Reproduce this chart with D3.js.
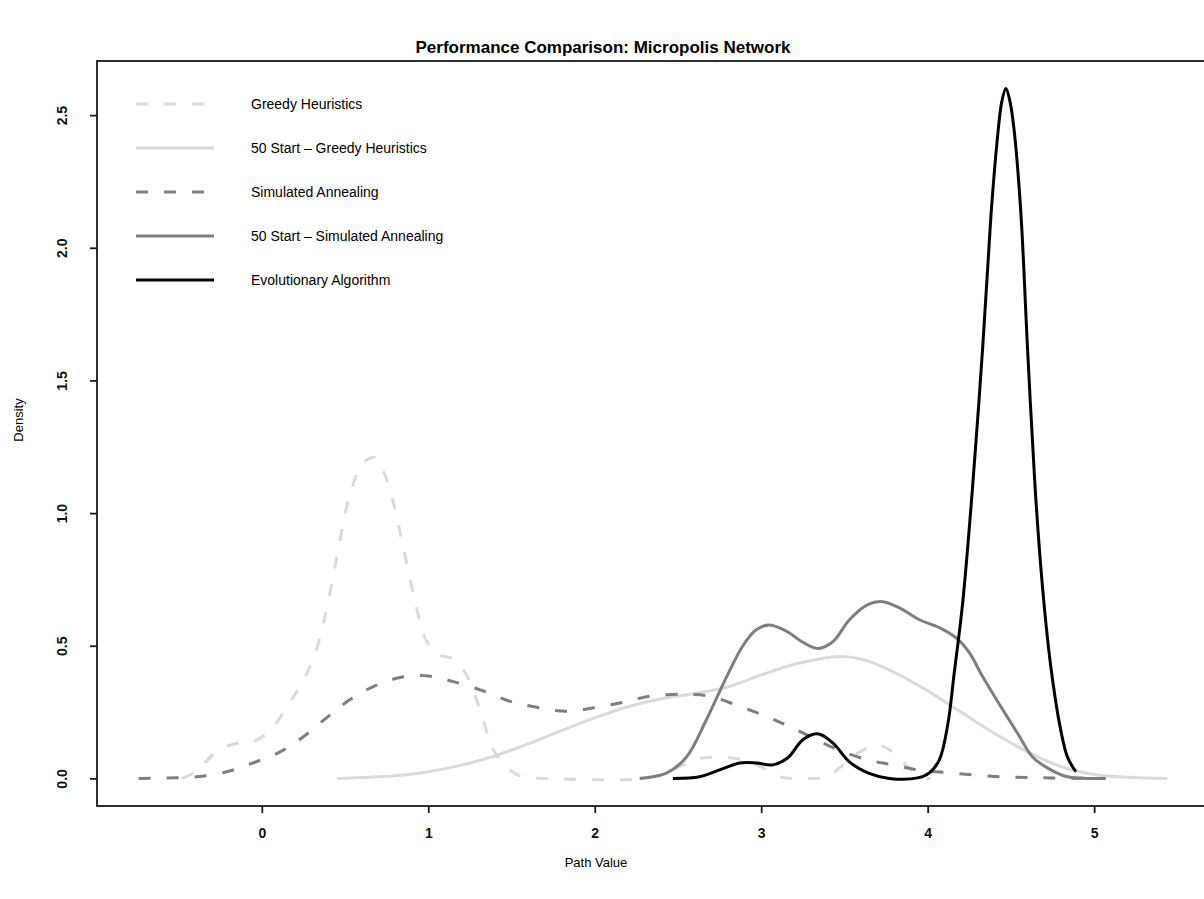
<!DOCTYPE html>
<html>
<head>
<meta charset="utf-8">
<script src="https://cdn.jsdelivr.net/npm/d3@7"></script>
<style>
  html, body { margin: 0; padding: 0; background: #fff; }
  svg { display: block; font-family: "Liberation Sans", Arial, Helvetica, sans-serif; }
</style>
</head>
<body>
<svg id="chart" width="1204" height="899"></svg>
<script>
// Kernel density estimates of path values, one array of [value, density] per method
const greedy = [
  [-0.48, 0], [-0.41, 0.02], [-0.25, 0.11], [-0.12, 0.136], [-0.05, 0.14], [0.05, 0.18],
  [0.15, 0.27], [0.25, 0.37], [0.33, 0.49], [0.40, 0.67], [0.47, 0.90], [0.53, 1.07],
  [0.61, 1.19], [0.68, 1.21], [0.73, 1.16], [0.79, 1.04], [0.85, 0.87], [0.92, 0.67],
  [0.98, 0.53], [1.05, 0.47], [1.15, 0.45], [1.23, 0.39], [1.31, 0.26], [1.39, 0.11],
  [1.46, 0.05], [1.55, 0.01], [1.71, 0], [2.30, 0], [2.42, 0.02], [2.53, 0.051],
  [2.63, 0.075], [2.75, 0.08], [2.89, 0.07], [3.01, 0.04], [3.11, 0.006], [3.28, 0],
  [3.40, 0.006], [3.47, 0.04], [3.58, 0.096], [3.70, 0.126], [3.77, 0.108], [3.88, 0.044],
  [3.96, 0.005], [4.02, 0]
];
const greedy50 = [
  [0.45, 0], [0.60, 0.003], [0.80, 0.01], [1.00, 0.025], [1.20, 0.05], [1.40, 0.085],
  [1.60, 0.13], [1.80, 0.18], [2.00, 0.228], [2.20, 0.27], [2.40, 0.30], [2.60, 0.32],
  [2.80, 0.345], [3.00, 0.39], [3.20, 0.43], [3.45, 0.459], [3.60, 0.45], [3.80, 0.40],
  [4.00, 0.33], [4.20, 0.25], [4.40, 0.17], [4.60, 0.10], [4.80, 0.045], [5.00, 0.015],
  [5.20, 0.004], [5.44, 0]
];
const annealing = [
  [-0.74, 0], [-0.57, 0.002], [-0.39, 0.006], [-0.21, 0.025], [-0.05, 0.059], [0.11, 0.10],
  [0.25, 0.157], [0.39, 0.229], [0.53, 0.297], [0.67, 0.346], [0.83, 0.38], [0.98, 0.387],
  [1.13, 0.368], [1.33, 0.33], [1.49, 0.291], [1.65, 0.268], [1.83, 0.253], [2.01, 0.268],
  [2.17, 0.287], [2.33, 0.31], [2.53, 0.317], [2.69, 0.31], [2.87, 0.272], [3.03, 0.234],
  [3.17, 0.195], [3.31, 0.153], [3.46, 0.108], [3.64, 0.07], [3.79, 0.051], [3.94, 0.032],
  [4.13, 0.021], [4.44, 0.006], [4.74, 0.002], [5.04, 0]
];
const annealing50 = [
  [2.27, 0], [2.43, 0.02], [2.55, 0.08], [2.67, 0.22], [2.79, 0.38], [2.89, 0.50],
  [2.97, 0.56], [3.05, 0.578], [3.16, 0.552], [3.25, 0.513], [3.34, 0.49], [3.43, 0.515],
  [3.53, 0.598], [3.64, 0.655], [3.73, 0.666], [3.83, 0.643], [3.95, 0.598], [4.07, 0.568],
  [4.18, 0.525], [4.25, 0.474], [4.33, 0.384], [4.44, 0.27], [4.54, 0.17], [4.63, 0.081],
  [4.74, 0.032], [4.84, 0.006], [4.96, 0], [5.07, 0]
];
const evolutionary = [
  [2.47, 0], [2.63, 0.006], [2.75, 0.032], [2.87, 0.058], [2.97, 0.058], [3.07, 0.051],
  [3.16, 0.078], [3.25, 0.146], [3.34, 0.168], [3.43, 0.134], [3.53, 0.062], [3.64, 0.021],
  [3.77, 0], [3.94, 0.002], [4.01, 0.021], [4.07, 0.07], [4.12, 0.20], [4.16, 0.40],
  [4.21, 0.66], [4.27, 1.10], [4.33, 1.62], [4.38, 2.12], [4.42, 2.42], [4.445, 2.55],
  [4.47, 2.60], [4.495, 2.55], [4.52, 2.44], [4.56, 2.13], [4.60, 1.62], [4.645, 1.10],
  [4.69, 0.72], [4.74, 0.42], [4.80, 0.18], [4.84, 0.08], [4.89, 0.025]
];

const seriesNames = [
  "Greedy Heuristics",
  "50 Start \u2013 Greedy Heuristics",
  "Simulated Annealing",
  "50 Start \u2013 Simulated Annealing",
  "Evolutionary Algorithm"
];
const seriesData = [greedy, greedy50, annealing, annealing50, evolutionary];
const seriesColors = ["#dadada", "#dadada", "#7f7f7f", "#7f7f7f", "#000000"];
const seriesDash = ["12,16", null, "12,16", null, null];

const xTicks = [0, 1, 2, 3, 4, 5];
const yTicks = [0, 0.5, 1, 1.5, 2, 2.5];

const svg = d3.select("#chart");
const plot = { left: 97, top: 61, right: 1209, bottom: 806 };

const x = d3.scaleLinear().domain([-0.99, 5.69]).range([plot.left, plot.right]);
const y = d3.scaleLinear().domain([-0.104, 2.704]).range([plot.bottom, plot.top]);

svg.append("rect").attr("width", 1204).attr("height", 899).attr("fill", "#fff");

svg.append("defs").append("clipPath").attr("id", "plot-clip")
  .append("rect")
  .attr("x", plot.left).attr("y", plot.top)
  .attr("width", plot.right - plot.left).attr("height", plot.bottom - plot.top);

// density curves, smoothed through the sampled points
const line = d3.line()
  .x(d => x(d[0]))
  .y(d => y(d[1]))
  .curve(d3.curveCatmullRom.alpha(0.5));

const curves = svg.append("g").attr("clip-path", "url(#plot-clip)");
seriesData.forEach((data, i) => {
  curves.append("path")
    .datum(data)
    .attr("d", line)
    .attr("fill", "none")
    .attr("stroke", seriesColors[i])
    .attr("stroke-width", 3)
    .attr("stroke-dasharray", seriesDash[i])
    .attr("stroke-linejoin", "round");
});

// plot frame
svg.append("rect")
  .attr("x", plot.left).attr("y", plot.top)
  .attr("width", plot.right - plot.left).attr("height", plot.bottom - plot.top)
  .attr("fill", "none").attr("stroke", "#1a1a1a").attr("stroke-width", 1.8);

// axes
const xAxis = svg.append("g")
  .attr("transform", `translate(0,${plot.bottom})`)
  .call(d3.axisBottom(x).tickValues(xTicks).tickSize(7).tickPadding(15).tickFormat(d3.format("d")));
const yAxis = svg.append("g")
  .attr("transform", `translate(${plot.left},0)`)
  .call(d3.axisLeft(y).tickValues(yTicks).tickSize(7).tickFormat(d3.format(".1f")));

[xAxis, yAxis].forEach(g => {
  g.select(".domain").remove();
  g.selectAll(".tick line").attr("stroke", "#1a1a1a").attr("stroke-width", 1.8);
  g.selectAll(".tick text")
    .attr("fill", "#111")
    .style("font-size", "14px")
    .style("font-weight", "bold")
    .style("font-family", "'Liberation Sans', Arial, sans-serif");
});

yAxis.selectAll(".tick text")
  .attr("x", null).attr("dy", null)
  .attr("text-anchor", "middle")
  .attr("transform", "translate(-35,0) rotate(-90)")
  .attr("dy", "0.35em");

// titles
svg.append("text")
  .attr("x", 603).attr("y", 53)
  .attr("text-anchor", "middle")
  .style("font-size", "17px").style("font-weight", "bold")
  .text("Performance Comparison: Micropolis Network");

svg.append("text")
  .attr("x", 596).attr("y", 867)
  .attr("text-anchor", "middle")
  .style("font-size", "13px")
  .text("Path Value");

svg.append("text")
  .attr("transform", "translate(23,420) rotate(-90)")
  .attr("text-anchor", "middle")
  .style("font-size", "13px")
  .text("Density");

// legend
const legend = svg.append("g");
const legendRows = [104, 148, 192, 236, 280];
seriesNames.forEach((name, i) => {
  const row = legend.append("g").attr("transform", `translate(0,${legendRows[i]})`);
  row.append("line")
    .attr("x1", 136).attr("x2", 214).attr("y1", 0).attr("y2", 0)
    .attr("stroke", seriesColors[i])
    .attr("stroke-width", 3)
    .attr("stroke-dasharray", seriesDash[i]);
  row.append("text")
    .attr("x", 251).attr("y", 0).attr("dy", "0.35em")
    .style("font-size", "14px")
    .text(name);
});
</script>
</body>
</html>
